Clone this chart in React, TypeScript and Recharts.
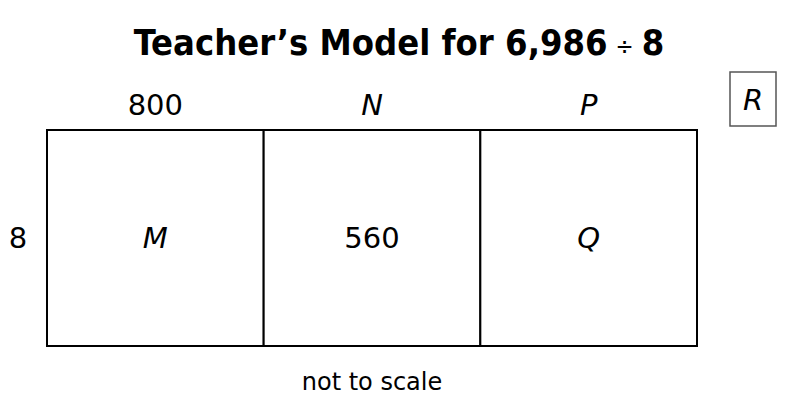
import React from 'react';
import { BarChart, Bar, XAxis, YAxis, LabelList, Customized } from 'recharts';

// Area model for 6,986 ÷ 8 (not to scale: equal-width parts)
const titleText = 'Teacher\u2019s Model for 6,986';
const divisorText = '8';
const columnLabels = ['800', 'N', 'P'];
const cellLabels = ['M', '560', 'Q'];
const rowLabel = '8';
const remainderLabel = 'R';
const noteText = 'not to scale';
const partWidths = [1, 1, 1];

const data = [
  { row: rowLabel, c0: partWidths[0], c1: partWidths[1], c2: partWidths[2] },
];

const FONT = '"DejaVu Sans", Verdana, sans-serif';
const TITLE_FONT = '"DejaVu Sans Condensed", "DejaVu Sans", sans-serif';
const isLetter = (s: string) => /^[A-Za-z]$/.test(s);

const TopTick = (props: any) => {
  const { x, y, payload } = props;
  const idx = Math.floor(payload.value);
  const label = columnLabels[idx] ?? '';
  return (
    <text x={x} y={y} textAnchor="middle" fontFamily={FONT} fontSize={29} fill="#000"
      fontStyle={isLetter(label) ? 'italic' : 'normal'}>
      {label}
    </text>
  );
};

const LeftTick = (props: any) => {
  const { x, y, payload } = props;
  return (
    <text x={x} y={y} dy={10} textAnchor="middle" fontFamily={FONT} fontSize={29} fill="#000">
      {payload.value}
    </text>
  );
};

const makeCellLabel = (i: number) => (props: any) => {
  const { x, y, width, height } = props;
  const label = cellLabels[i];
  return (
    <text x={x + width / 2} y={y + height / 2} dy={10} textAnchor="middle" fontFamily={FONT}
      fontSize={29} fill="#000" fontStyle={isLetter(label) ? 'italic' : 'normal'}>
      {label}
    </text>
  );
};

const Overlay = () => (
  <g>
    <text x={399} y={55} textAnchor="middle" fontFamily={TITLE_FONT} fontStretch="condensed"
      fontSize={36} fontWeight="bold" fill="#000">
      {titleText}
      <tspan fontFamily={FONT} fontSize={24} fontWeight="normal" dx={8}>{'\u00F7'}</tspan>
      <tspan dx={8}>{divisorText}</tspan>
    </text>
    <rect x={730} y={72} width={46} height={54} fill="none" stroke="#555" strokeWidth={1.5} />
    <text x={753} y={110} textAnchor="middle" fontFamily={FONT} fontSize={29} fontStyle="italic" fill="#000">
      {remainderLabel}
    </text>
    <text x={372} y={390} textAnchor="middle" fontFamily={FONT} fontSize={24} fill="#000">
      {noteText}
    </text>
  </g>
);

export default function App() {
  const total = partWidths.reduce((a, b) => a + b, 0);
  const ticks = partWidths.map((_, i) => i + 0.5);
  return (
    <div style={{ position: 'absolute', left: 0, top: 0, background: '#fff' }}>
      <BarChart
        width={791}
        height={402}
        data={data}
        layout="vertical"
        barCategoryGap={0}
        margin={{ top: 90, right: 94, bottom: 56, left: 0 }}
      >
        <XAxis
          type="number"
          orientation="top"
          domain={[0, total]}
          ticks={ticks}
          height={40}
          axisLine={false}
          tickLine={false}
          tickSize={0}
          tickMargin={15}
          tick={<TopTick />}
          interval={0}
        />
        <YAxis
          type="category"
          dataKey="row"
          width={47}
          axisLine={false}
          tickLine={false}
          tickSize={0}
          tickMargin={29}
          tick={<LeftTick />}
        />
        {['c0', 'c1', 'c2'].map((k, i) => (
          <Bar key={k} dataKey={k} stackId="a" fill="#fff" stroke="#000" strokeWidth={2}
            isAnimationActive={false}>
            <LabelList dataKey={k} content={makeCellLabel(i)} />
          </Bar>
        ))}
        <Customized component={<Overlay />} />
      </BarChart>
    </div>
  );
}
